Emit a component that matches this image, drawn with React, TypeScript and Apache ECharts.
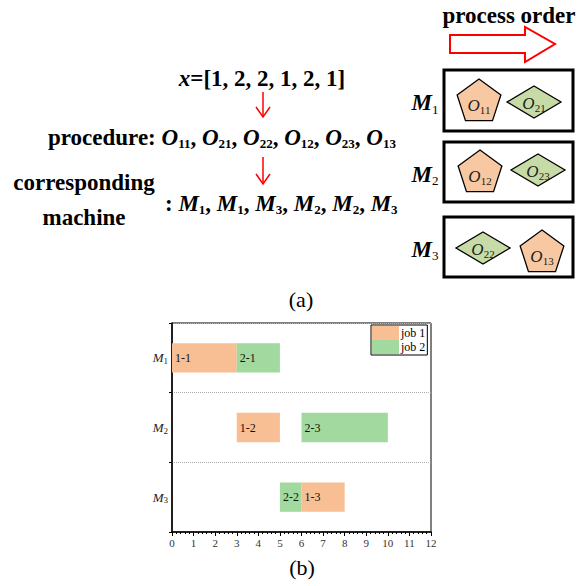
import React, { useEffect, useRef } from 'react';
import * as echarts from 'echarts';

const FONT = '"Liberation Serif", "Times New Roman", serif';

// ---- data ----
const encodingVector = [1, 2, 2, 1, 2, 1];
const procedureOps = ['11', '21', '22', '12', '23', '13'];
const assignedMachines = ['1', '1', '3', '2', '2', '3'];
const boxMachines = ['1', '2', '3'];
const boxOpsM1 = [{ job: 1, op: '11' }, { job: 2, op: '21' }];
const boxOpsM2 = [{ job: 1, op: '12' }, { job: 2, op: '23' }];
const boxOpsM3 = [{ job: 2, op: '22' }, { job: 1, op: '13' }];
const boxOps = [boxOpsM1, boxOpsM2, boxOpsM3];

const machineCats = ['M1', 'M2', 'M3'];
const jobNames = ['job 1', 'job 2'];
// [machine index, start, end]
const job1Tasks = [[0, 0, 3], [1, 3, 5], [2, 6, 8]];
const job1Labels = ['1-1', '1-2', '1-3'];
const job2Tasks = [[0, 3, 5], [2, 5, 6], [1, 6, 10]];
const job2Labels = ['2-1', '2-2', '2-3'];
const xMin = 0;
const xMax = 12;

// ---- styles / layout ----
const GANTT_ORANGE = '#F7BF93';
const GANTT_GREEN = '#A1D99F';
const SHAPE_ORANGE = '#F8C8A2';
const SHAPE_GREEN = '#C6DBA6';

const boxTops = [70, 142, 217];
const boxHeights = [61, 60, 60];
const shapeCenters = [
  [[479, 102], [534, 102]],
  [[480, 173], [538, 170]],
  [[483, 248], [542, 253]],
];

const bigRich = {
  b: { fontFamily: FONT, fontSize: 23, fontWeight: 'bold', fill: '#000', lineHeight: 26 },
  i: { fontFamily: FONT, fontSize: 23, fontWeight: 'bold', fontStyle: 'italic', fill: '#000', lineHeight: 26 },
  s: { fontFamily: FONT, fontSize: 13, fontWeight: 'bold', fill: '#000', lineHeight: 20, verticalAlign: 'bottom' },
  t: { fontFamily: FONT, fontSize: 13, fill: '#000', lineHeight: 20, verticalAlign: 'bottom' },
};

function textEl(x: number, y: number, text: string, rich: any, align = 'center') {
  return {
    type: 'text',
    x,
    y,
    style: {
      text,
      rich,
      align,
      textAlign: align,
      verticalAlign: 'middle',
      textVerticalAlign: 'middle',
      fill: '#000',
    },
  };
}

function pentagon(cx: number, cy: number, r: number) {
  const pts: number[][] = [];
  for (let k = 0; k < 5; k++) {
    const a = ((-90 + 72 * k) * Math.PI) / 180;
    pts.push([cx + r * Math.cos(a), cy + r * Math.sin(a)]);
  }
  return pts;
}

function diamond(cx: number, cy: number, hw: number, hh: number) {
  return [[cx, cy - hh], [cx + hw, cy], [cx, cy + hh], [cx - hw, cy]];
}

function downArrow(x: number, y0: number, y1: number) {
  return [
    { type: 'line', shape: { x1: x, y1: y0, x2: x, y2: y1 }, style: { stroke: '#FF0000', lineWidth: 1.5 } },
    {
      type: 'polyline',
      shape: { points: [[x - 7, y1 - 10], [x, y1], [x + 7, y1 - 10]] },
      style: { stroke: '#FF0000', lineWidth: 1.5, fill: 'none' },
    },
  ];
}

function buildGraphics() {
  const els: any[] = [];
  // encoding vector
  els.push(textEl(262, 78, `{i|x}{b|=[${encodingVector.join(', ')}]}`, bigRich));
  els.push(...downArrow(263, 92, 117));
  const procText = '{b|procedure: }' + procedureOps.map((p) => `{i|O}{s|${p}}`).join('{b|, }');
  els.push(textEl(222, 137, procText, bigRich));
  els.push(...downArrow(263, 157, 184));
  els.push(textEl(84, 182, '{b|corresponding}', bigRich));
  els.push(textEl(84, 217, '{b|machine}', bigRich));
  const machText = '{b|: }' + assignedMachines.map((m) => `{i|M}{s|${m}}`).join('{b|, }');
  els.push(textEl(165, 203, machText, bigRich, 'left'));

  // process order
  els.push(textEl(509, 15, '{b|process order}', bigRich));
  els.push({
    type: 'polygon',
    shape: { points: [[450, 35], [525, 35], [525, 27], [555, 44], [525, 62], [525, 53], [450, 53]] },
    style: { stroke: '#FF0000', lineWidth: 2, fill: '#fff' },
  });

  const shapeRich = {
    o: { fontFamily: FONT, fontSize: 17, fontStyle: 'italic', fill: '#222', lineHeight: 20 },
    s: { fontFamily: FONT, fontSize: 11, fill: '#222', lineHeight: 15, verticalAlign: 'bottom' },
  };

  boxMachines.forEach((m, i) => {
    els.push({
      type: 'rect',
      shape: { x: 444, y: boxTops[i], width: 129, height: boxHeights[i] },
      style: { stroke: '#000', lineWidth: 3, fill: '#fff' },
    });
    els.push(textEl(425, boxTops[i] + boxHeights[i] / 2 + 2, `{i|M}{t|${m}}`, bigRich));
    boxOps[i].forEach((o, j) => {
      const [cx, cy] = shapeCenters[i][j];
      if (o.job === 1) {
        els.push({
          type: 'polygon',
          shape: { points: pentagon(cx, cy, 23) },
          style: { fill: SHAPE_ORANGE, stroke: '#000', lineWidth: 1.3 },
        });
        els.push(textEl(cx, cy + 3, `{o|O}{s|${o.op}}`, shapeRich));
      } else {
        els.push({
          type: 'polygon',
          shape: { points: diamond(cx, cy, 27, 16) },
          style: { fill: SHAPE_GREEN, stroke: '#000', lineWidth: 1.3 },
        });
        els.push(textEl(cx, cy + 1, `{o|O}{s|${o.op}}`, shapeRich));
      }
    });
  });

  const capRich = { c: { fontFamily: FONT, fontSize: 22, fill: '#000' } };
  els.push(textEl(301, 299, '{c|(a)}', capRich));
  els.push(textEl(302, 567, '{c|(b)}', capRich));
  return els;
}

function makeRender(labels: string[]) {
  return (params: any, api: any) => {
    const c = api.value(0);
    const s = api.coord([api.value(1), c]);
    const e = api.coord([api.value(2), c]);
    const h = api.size([0, 1])[1] * 0.42;
    return {
      type: 'group',
      children: [
        {
          type: 'rect',
          shape: { x: s[0], y: s[1] - h / 2, width: e[0] - s[0], height: h },
          style: { fill: api.visual('color') },
        },
        {
          type: 'text',
          x: s[0] + 3,
          y: s[1],
          style: {
            text: labels[params.dataIndex],
            fill: '#111',
            font: `12px ${FONT}`,
            align: 'left',
            verticalAlign: 'middle',
          },
        },
      ],
    };
  };
}

export default function App() {
  const ref = useRef<HTMLDivElement>(null);
  useEffect(() => {
    if (!ref.current) return;
    const chart = echarts.init(ref.current, undefined, { renderer: 'svg' });
    chart.setOption({
      animation: false,
      backgroundColor: '#fff',
      grid: {
        left: 172,
        top: 323,
        right: 150,
        bottom: 54,
        show: true,
        borderColor: '#000',
        borderWidth: 1,
        containLabel: false,
      },
      legend: {
        data: jobNames,
        orient: 'vertical',
        left: 371,
        top: 325,
        itemWidth: 27,
        itemHeight: 14,
        itemGap: 0,
        padding: [1, 2, 1, 1],
        borderColor: '#000',
        borderWidth: 1,
        icon: 'rect',
        selectedMode: false,
        textStyle: { fontFamily: FONT, fontSize: 12, color: '#000', padding: [0, 0, 0, -3] },
      },
      xAxis: {
        type: 'value',
        min: xMin,
        max: xMax,
        interval: 1,
        axisLine: { show: true, lineStyle: { color: '#000', width: 1.5 } },
        axisTick: { show: true, length: 4, lineStyle: { color: '#000' } },
        minorTick: { show: true, splitNumber: 5, length: 2, lineStyle: { color: '#000' } },
        splitLine: { show: false },
        axisLabel: { fontFamily: FONT, fontSize: 11, color: '#333', margin: 5 },
      },
      yAxis: {
        type: 'category',
        data: machineCats,
        inverse: true,
        axisLine: { show: true, lineStyle: { color: '#000', width: 1.5 } },
        axisTick: { show: true, length: 3, lineStyle: { color: '#000' } },
        splitLine: { show: true, lineStyle: { type: 'dotted', color: '#aaa' } },
        axisLabel: {
          margin: 4,
          formatter: (v: string) => `{m|M}{s|${v.slice(1)}}`,
          rich: {
            m: { fontFamily: FONT, fontSize: 13, fontStyle: 'italic', color: '#222', lineHeight: 15 },
            s: { fontFamily: FONT, fontSize: 9, color: '#222', lineHeight: 12, verticalAlign: 'bottom' },
          },
        },
      },
      series: [
        {
          type: 'custom',
          name: jobNames[0],
          renderItem: makeRender(job1Labels),
          data: job1Tasks,
          encode: { x: [1, 2], y: 0 },
          itemStyle: { color: GANTT_ORANGE },
        },
        {
          type: 'custom',
          name: jobNames[1],
          renderItem: makeRender(job2Labels),
          data: job2Tasks,
          encode: { x: [1, 2], y: 0 },
          itemStyle: { color: GANTT_GREEN },
        },
      ],
      graphic: buildGraphics(),
    });
    return () => chart.dispose();
  }, []);
  return (
    <div
      ref={ref}
      style={{ position: 'fixed', left: 0, top: 0, width: 581, height: 586, background: '#fff' }}
    />
  );
}
